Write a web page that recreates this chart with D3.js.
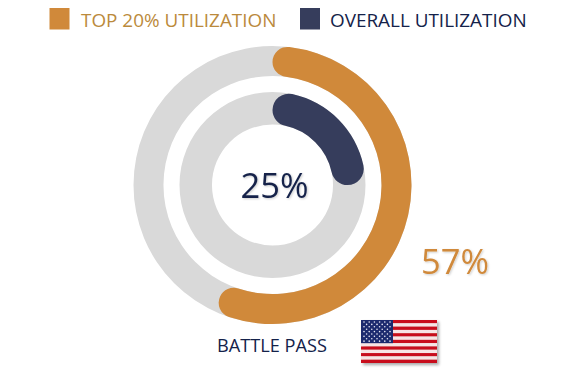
<!DOCTYPE html>
<html>
<head>
<meta charset="utf-8">
<script src="https://cdn.jsdelivr.net/npm/d3@7"></script>
<style>
  html, body { margin: 0; padding: 0; background: #fff; }
  text { font-family: "Open Sans", sans-serif; }
</style>
</head>
<body>
<svg id="chart" width="572" height="378"></svg>
<script>
const seriesNames = ['TOP 20% UTILIZATION', 'OVERALL UTILIZATION']
const seriesValues = [57, 25]
const seriesColors = ['#d0893a', '#363d5c']
const labelColors = ['#bb8a3c', '#14224a']
const categoryLabel = 'BATTLE PASS'
const stripeRows = d3.range(13)
const starRows = d3.range(9)

const svg = d3.select('#chart')
const cx = 272.5
const cy = 185

const defs = svg.append('defs')
const blur = defs.append('filter').attr('id', 'flagShadow')
  .attr('x', '-10%').attr('y', '-10%').attr('width', '125%').attr('height', '130%')
blur.append('feDropShadow').attr('dx', 2).attr('dy', 2).attr('stdDeviation', 1.5)
  .attr('flood-color', '#000').attr('flood-opacity', 0.35)
const textBlur = defs.append('filter').attr('id', 'textShadow')
  .attr('x', '-10%').attr('y', '-10%').attr('width', '120%').attr('height', '130%')
textBlur.append('feDropShadow').attr('dx', 1).attr('dy', 1).attr('stdDeviation', 1)
  .attr('flood-color', '#000').attr('flood-opacity', 0.2)

// value -> angle
const angle = d3.scaleLinear().domain([0, 100]).range([0, 2 * Math.PI])

const rings = [
  { inner: 109, outer: 139 },
  { inner: 60.5, outer: 93 }
]

const g = svg.append('g').attr('transform', `translate(${cx},${cy})`)

seriesValues.forEach((value, i) => {
  const ring = rings[i]
  const arc = d3.arc().innerRadius(ring.inner).outerRadius(ring.outer)

  g.append('path')
    .attr('d', arc({ startAngle: 0, endAngle: 2 * Math.PI }))
    .attr('fill', '#d9d9d9')

  g.append('path')
    .attr('d', arc.cornerRadius((ring.outer - ring.inner) / 2)({ startAngle: 0, endAngle: angle(value) }))
    .attr('fill', seriesColors[i])
})

// Legend
const legendX = [49.5, 300]
const legendTextX = [81, 330]
seriesNames.forEach((name, i) => {
  svg.append('rect')
    .attr('x', legendX[i]).attr('y', 8)
    .attr('width', 20).attr('height', 21.5)
    .attr('fill', seriesColors[i])

  svg.append('text')
    .attr('x', legendTextX[i]).attr('y', 27)
    .attr('font-size', 18.9)
    .attr('fill', labelColors[i])
    .text(name)
})

// Value labels
svg.append('text')
  .attr('x', 274.5).attr('y', 198)
  .attr('text-anchor', 'middle')
  .attr('font-size', 34.5)
  .attr('fill', labelColors[1])
  .attr('filter', 'url(#textShadow)')
  .text(seriesValues[1] + '%')

svg.append('text')
  .attr('x', 455).attr('y', 274)
  .attr('text-anchor', 'middle')
  .attr('font-size', 34.5)
  .attr('fill', seriesColors[0])
  .attr('filter', 'url(#textShadow)')
  .text(seriesValues[0] + '%')

svg.append('text')
  .attr('x', 272).attr('y', 352)
  .attr('text-anchor', 'middle')
  .attr('font-size', 18.2)
  .attr('fill', labelColors[1])
  .text(categoryLabel)

// Flag
const flag = svg.append('g').attr('filter', 'url(#flagShadow)')
const flagX = d3.scaleLinear().domain([0, 1]).range([361, 437])
const stripeY = d3.scaleBand().domain(stripeRows).range([320, 363])

flag.selectAll('rect.stripe')
  .data(stripeRows)
  .enter()
  .append('rect')
  .attr('class', 'stripe')
  .attr('x', flagX(0))
  .attr('y', d => stripeY(d))
  .attr('width', flagX(1) - flagX(0))
  .attr('height', stripeY.bandwidth())
  .attr('fill', d => d % 2 ? '#f7e4e4' : '#c8101a')

const cantonBottom = stripeY(7)
flag.append('rect')
  .attr('x', flagX(0)).attr('y', stripeY(0))
  .attr('width', 32).attr('height', cantonBottom - stripeY(0))
  .attr('fill', '#1c2a6e')

const starY = d3.scalePoint().domain(starRows).range([stripeY(0) + 2, cantonBottom - 2])
starRows.forEach(row => {
  const cols = row % 2 ? d3.range(5) : d3.range(6)
  const starX = d3.scalePoint().domain(d3.range(6)).range([flagX(0) + 3, flagX(0) + 29])
  const offset = row % 2 ? 2.6 : 0
  flag.selectAll(null)
    .data(cols)
    .enter()
    .append('circle')
    .attr('cx', d => starX(d) + offset)
    .attr('cy', starY(row))
    .attr('r', 0.8)
    .attr('fill', '#e8e8f4')
})
</script>
</body>
</html>
